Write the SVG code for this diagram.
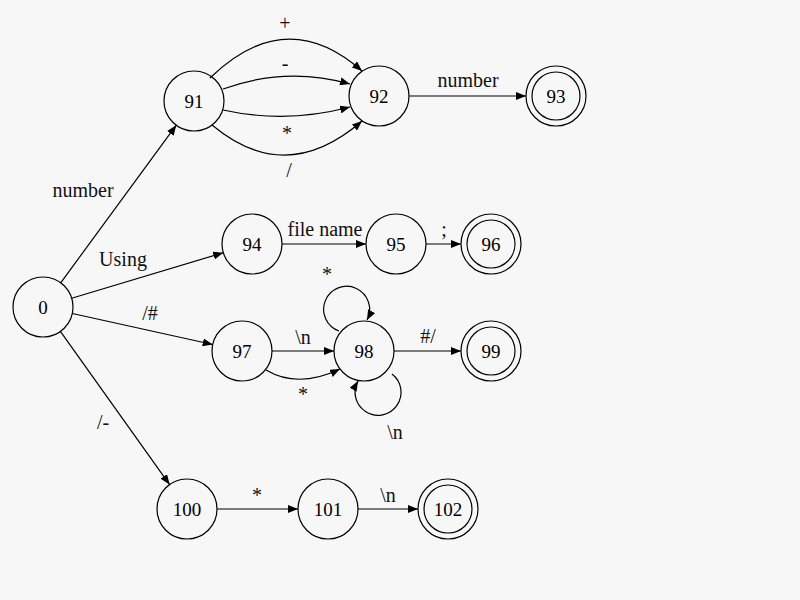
<svg xmlns="http://www.w3.org/2000/svg" width="800" height="600" viewBox="0 0 800 600">
  <defs>
    <marker id="arrow" markerUnits="userSpaceOnUse" markerWidth="11" markerHeight="8" refX="10" refY="4" orient="auto">
      <path d="M0,0 L10,4 L0,8 z" fill="#000"/>
    </marker>
    <style>
      .state circle { fill: none; stroke: #000; stroke-width: 1.2; }
      .state text { font-size: 19px; text-anchor: middle; fill: #000; }
      .edges path, .edges line { fill: none; stroke: #000; stroke-width: 1.2; marker-end: url(#arrow); }
      .edges text { font-size: 20px; text-anchor: middle; fill: #111; }
    </style>
  </defs>
  <rect width="800" height="600" fill="#f7f7f7"/>

  <!-- transitions -->
  <g id="edges" class="edges" font-family="Liberation Serif, DejaVu Serif, serif">
    <line x1="60.7" y1="282.8" x2="176.3" y2="125.2"/>
    <text x="83" y="197">number</text>

    <line x1="71.7" y1="298.3" x2="223.3" y2="252.7"/>
    <text x="123" y="266">Using</text>

    <line x1="72.3" y1="313.5" x2="212.7" y2="344.5"/>
    <text x="150" y="320">/#</text>

    <line x1="60.4" y1="331.4" x2="169.6" y2="484.6"/>
    <text x="103" y="429">/-</text>

    <path d="M210,78 Q286,4 362,71"/>
    <text x="285" y="30">+</text>
    <path d="M223,89 Q286,66 350,84"/>
    <text x="285" y="70">-</text>
    <path d="M223,110 Q286,124 350,107"/>
    <text x="287" y="140">*</text>
    <path d="M212,125 Q286,187 362,121"/>
    <text x="289" y="177">/</text>

    <line x1="409" y1="96" x2="526" y2="96"/>
    <text x="468" y="87">number</text>

    <line x1="282" y1="244" x2="366" y2="244"/>
    <text x="325" y="236">file name</text>

    <line x1="426" y1="244" x2="461" y2="244"/>
    <text x="444" y="236">;</text>

    <line x1="272" y1="351" x2="334" y2="351"/>
    <text x="303" y="344">\n</text>

    <path d="M266,370 Q298,389 340,369"/>
    <text x="303" y="401">*</text>

    <path d="M339,331 A23,23 0 1 1 367,320"/>
    <text x="327" y="281">*</text>

    <path d="M392,374 A23,23 0 1 1 358,381"/>
    <text x="395" y="439">\n</text>

    <line x1="394" y1="351" x2="461" y2="351"/>
    <text x="428" y="343">#/</text>

    <line x1="217" y1="509" x2="298" y2="509"/>
    <text x="257" y="502">*</text>

    <line x1="358" y1="509" x2="418" y2="509"/>
    <text x="388" y="502">\n</text>
  </g>

  <!-- states -->
  <g id="states" font-family="Liberation Serif, DejaVu Serif, serif">
    <g id="s0" class="state"><circle cx="43" cy="307" r="30"/><text x="43" y="314">0</text></g>
    <g id="s91" class="state"><circle cx="194" cy="101" r="30"/><text x="194" y="108">91</text></g>
    <g id="s92" class="state"><circle cx="379" cy="96" r="30"/><text x="379" y="103">92</text></g>
    <g id="s93" class="state"><circle cx="556" cy="96" r="30"/><circle cx="556" cy="96" r="24"/><text x="556" y="103">93</text></g>
    <g id="s94" class="state"><circle cx="252" cy="244" r="30"/><text x="252" y="251">94</text></g>
    <g id="s95" class="state"><circle cx="396" cy="244" r="30"/><text x="396" y="251">95</text></g>
    <g id="s96" class="state"><circle cx="491" cy="244" r="30"/><circle cx="491" cy="244" r="24"/><text x="491" y="251">96</text></g>
    <g id="s97" class="state"><circle cx="242" cy="351" r="30"/><text x="242" y="358">97</text></g>
    <g id="s98" class="state"><circle cx="364" cy="351" r="30"/><text x="364" y="358">98</text></g>
    <g id="s99" class="state"><circle cx="491" cy="351" r="30"/><circle cx="491" cy="351" r="24"/><text x="491" y="358">99</text></g>
    <g id="s100" class="state"><circle cx="187" cy="509" r="30"/><text x="187" y="516">100</text></g>
    <g id="s101" class="state"><circle cx="328" cy="509" r="30"/><text x="328" y="516">101</text></g>
    <g id="s102" class="state"><circle cx="448" cy="509" r="30"/><circle cx="448" cy="509" r="24"/><text x="448" y="516">102</text></g>
  </g>
</svg>
